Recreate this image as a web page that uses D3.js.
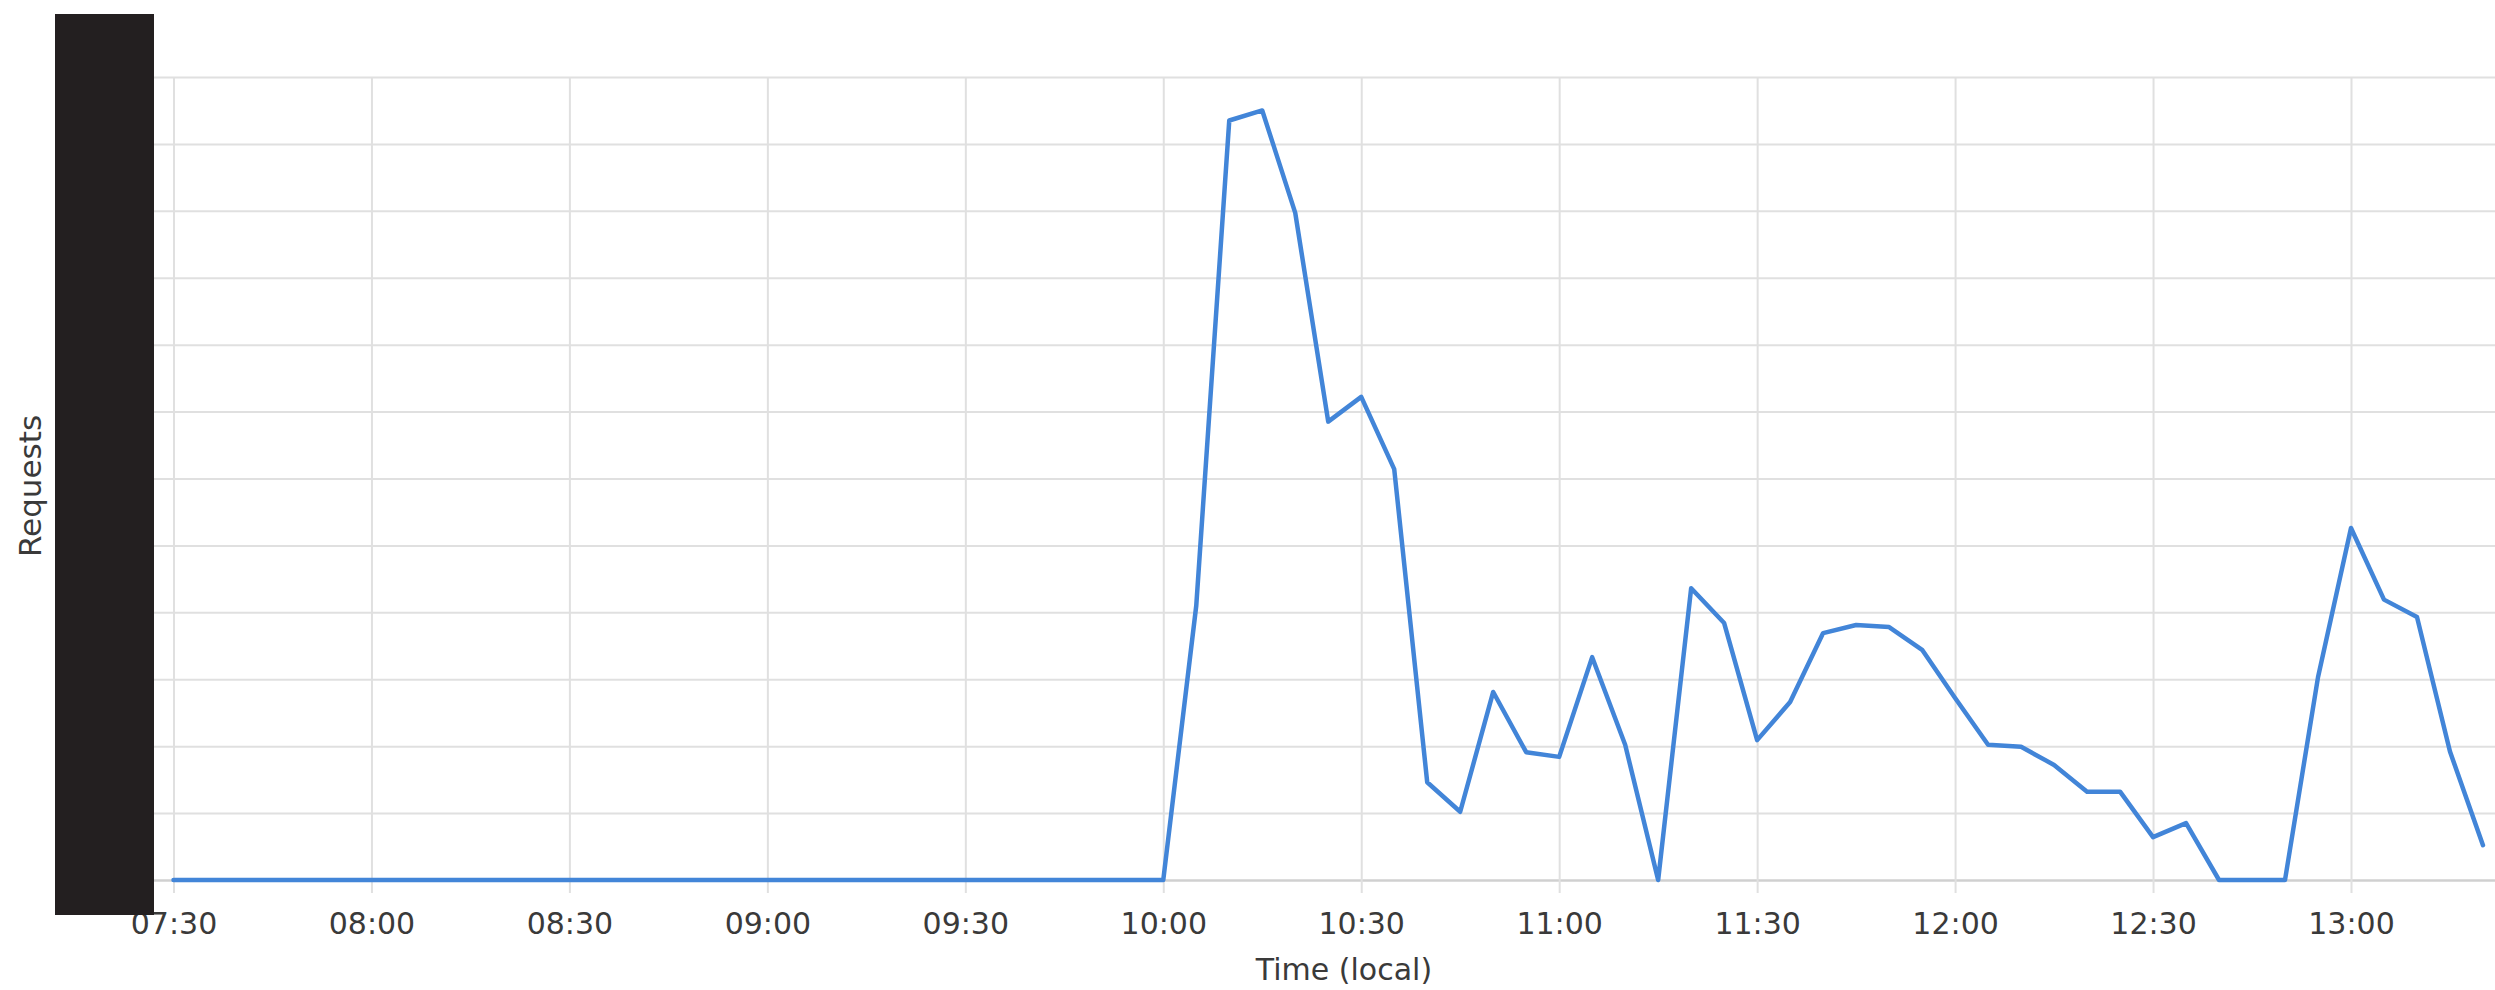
<!DOCTYPE html>
<html>
<head>
<meta charset="utf-8">
<script src="https://cdn.jsdelivr.net/npm/d3@7"></script>
<style>
  html, body { margin: 0; padding: 0; background: #ffffff; }
  svg { display: block; }
</style>
</head>
<body>
<svg id="chart" width="2495" height="990"></svg>
<script>
// ---- data (5-minute samples, local time) ----
const times = [
  "07:30","07:35","07:40","07:45","07:50","07:55",
  "08:00","08:05","08:10","08:15","08:20","08:25",
  "08:30","08:35","08:40","08:45","08:50","08:55",
  "09:00","09:05","09:10","09:15","09:20","09:25",
  "09:30","09:35","09:40","09:45","09:50","09:55",
  "10:00","10:05","10:10","10:15","10:20","10:25",
  "10:30","10:35","10:40","10:45","10:50","10:55",
  "11:00","11:05","11:10","11:15","11:20","11:25",
  "11:30","11:35","11:40","11:45","11:50","11:55",
  "12:00","12:05","12:10","12:15","12:20","12:25",
  "12:30","12:35","12:40","12:45","12:50","12:55",
  "13:00","13:05","13:10","13:15","13:20"
];
const requests = [
  0, 0, 0, 0, 0, 0,
  0, 0, 0, 0, 0, 0,
  0, 0, 0, 0, 0, 0,
  0, 0, 0, 0, 0, 0,
  0, 0, 0, 0, 0, 0,
  0, 41, 113.5, 115, 99.7, 68.5,
  72.2, 61.4, 14.6, 10.2, 28.1, 19.1,
  18.4, 33.3, 20.2, 0, 43.6, 38.4,
  20.9, 26.6, 36.9, 38.1, 37.8, 34.4,
  27.2, 20.2, 19.9, 17.2, 13.2, 13.2,
  6.4, 8.5, 0, 0, 0, 30.3,
  52.6, 41.9, 39.3, 19.2, 5.2
];
const xTickLabels = ["07:30","08:00","08:30","09:00","09:30","10:00","10:30","11:00","11:30","12:00","12:30","13:00"];
const yTicks = [0,10,20,30,40,50,60,70,80,90,100,110,120];
const xTitle = "Time (local)";
const yTitle = "Requests";

// ---- setup ----
const parse = d3.timeParse("%Y-%m-%d %H:%M");
const day = "2020-01-01 ";
const data = times.map((t, i) => ({ t: parse(day + t), v: requests[i] }));

const W = 2495, H = 990;
const plotTop = 77, plotBottom = 880, gridLeft = 120, gridRight = W;

const x = d3.scaleTime()
  .domain([parse(day + "07:30"), parse(day + "13:00")])
  .range([173.5, 2351]);
const y = d3.scaleLinear().domain([0, 120]).range([plotBottom, plotTop]);

const svg = d3.select("#chart");
svg.append("rect").attr("width", W).attr("height", H).attr("fill", "#ffffff");

// horizontal gridlines
svg.append("g").attr("class", "ygrid")
  .attr("transform", `translate(${gridLeft},0)`)
  .call(d3.axisLeft(y).tickValues(yTicks).tickSize(-(gridRight - gridLeft)).tickFormat(""))
  .call(g => g.select(".domain").remove())
  .call(g => g.selectAll(".tick line")
    .attr("stroke", d => d === 0 ? "#d0d0d0" : "#e0e0e0")
    .attr("stroke-width", d => d === 0 ? 2.5 : 2));

// vertical gridlines + x labels
const xTickDates = xTickLabels.map(s => parse(day + s));
const xAxis = svg.append("g").attr("class", "xaxis")
  .attr("transform", `translate(0,${plotBottom + 13})`)
  .call(d3.axisBottom(x).tickValues(xTickDates)
    .tickSize(-(plotBottom + 13 - plotTop))
    .tickPadding(20)
    .tickFormat(d3.timeFormat("%H:%M")));
xAxis.select(".domain").remove();
xAxis.selectAll(".tick line").attr("stroke", "#e0e0e0").attr("stroke-width", 2);
xAxis.selectAll(".tick text")
  .attr("fill", "#3a3a3a")
  .style("font-family", "'DejaVu Sans', sans-serif")
  .style("font-size", "30px");

// line
const line = d3.line().x(d => x(d.t)).y(d => y(d.v));
svg.append("path").datum(data)
  .attr("d", line)
  .attr("fill", "none")
  .attr("stroke", "#4285d8")
  .attr("stroke-width", 4.5)
  .attr("stroke-linejoin", "round")
  .attr("stroke-linecap", "round");

// redaction block over y-axis labels
svg.append("rect")
  .attr("x", 55).attr("y", 14).attr("width", 99).attr("height", 901)
  .attr("fill", "#231f20");

// axis titles
svg.append("text")
  .attr("x", 1344).attr("y", 980)
  .attr("text-anchor", "middle")
  .attr("fill", "#3a3a3a")
  .style("font-family", "'DejaVu Sans', sans-serif")
  .style("font-size", "30px")
  .text(xTitle);

svg.append("text")
  .attr("transform", "translate(41,486) rotate(-90)")
  .attr("text-anchor", "middle")
  .attr("fill", "#3a3a3a")
  .style("font-family", "'DejaVu Sans', sans-serif")
  .style("font-size", "31px")
  .text(yTitle);
</script>
</body>
</html>
